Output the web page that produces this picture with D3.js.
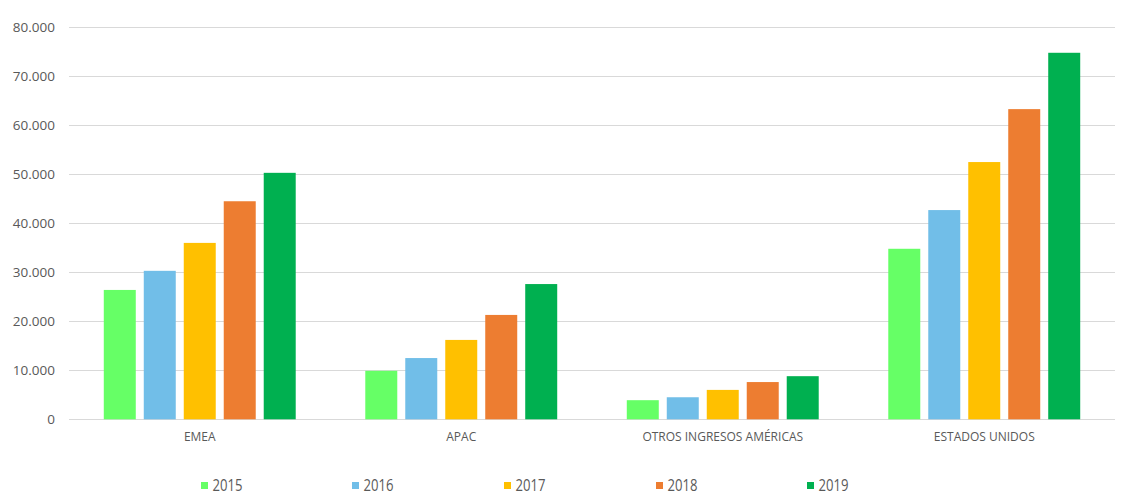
<!DOCTYPE html>
<html><head><meta charset="utf-8">
<script src="https://cdn.jsdelivr.net/npm/d3@7"></script>
<style>body{margin:0;background:#fff}svg{display:block}</style>
</head><body>
<svg id="chart" width="1129" height="504"></svg>
<script>
const categories = ["EMEA", "APAC", "OTROS INGRESOS AMÉRICAS", "ESTADOS UNIDOS"];
const years = ["2015", "2016", "2017", "2018", "2019"];
const v2015 = [26400, 9900, 3900, 34800];
const v2016 = [30300, 12500, 4500, 42700];
const v2017 = [36000, 16200, 6000, 52500];
const v2018 = [44500, 21300, 7600, 63300];
const v2019 = [50300, 27600, 8800, 74800];
const yTicks = [0, 10000, 20000, 30000, 40000, 50000, 60000, 70000, 80000];
const colors = ["#66FF66", "#71BEE8", "#FFC000", "#ED7D31", "#00B050"];

const series = [v2015, v2016, v2017, v2018, v2019];
const svg = d3.select("#chart");
const mLeft = 69, mRight = 1115, mTop = 27.3, mBottom = 419.3;

const x0 = d3.scaleBand().domain(categories).range([mLeft, mRight]).paddingInner(0).paddingOuter(0);
const x1 = d3.scaleBand().domain(years).range([0, x0.bandwidth()]).paddingInner(0.2).paddingOuter(0.87);
const y = d3.scaleLinear().domain([0, 80000]).range([mBottom, mTop]);

const fmt = v => v === 0 ? "0" : d3.format(",")(v).replace(/,/g, ".");

// gridlines
svg.append("g").selectAll("line").data(yTicks).join("line")
  .attr("x1", mLeft).attr("x2", mRight)
  .attr("y1", d => Math.round(y(d)) + 0.5).attr("y2", d => Math.round(y(d)) + 0.5)
  .attr("stroke", "#D9D9D9").attr("stroke-width", 1);

// y labels
const yAxis = d3.axisLeft(y).tickValues(yTicks).tickFormat(fmt).tickSize(0).tickPadding(0);
const ya = svg.append("g").attr("transform", `translate(${mLeft - 14},0)`).call(yAxis);
ya.select(".domain").remove();
ya.selectAll("text").attr("font-family", "'Open Sans', sans-serif").attr("font-size", "13.5px").attr("fill", "#595959");

// bars
const g = svg.append("g");
categories.forEach((c, ci) => {
  g.append("g").selectAll("rect").data(years).join("rect")
    .attr("x", d => x0(c) + x1(d))
    .attr("width", x1.bandwidth())
    .attr("y", (d, i) => y(series[i][ci]))
    .attr("height", (d, i) => y(0) - y(series[i][ci]))
    .attr("fill", (d, i) => colors[i]);
});

// x axis
const xAxis = d3.axisBottom(x0).tickSize(0).tickPadding(0);
const xa = svg.append("g").attr("transform", `translate(0,${mBottom})`).call(xAxis);
xa.select(".domain").remove();
xa.selectAll("text").attr("dy", null).attr("y", 22).attr("font-family", "'Open Sans', sans-serif")
  .attr("font-size", "12px").attr("fill", "#595959");

// legend
const legX = [201, 352, 504, 656, 807];
const leg = svg.append("g");
years.forEach((yr, i) => {
  leg.append("rect").attr("x", legX[i]).attr("y", 482).attr("width", 7).attr("height", 7).attr("fill", colors[i]);
  leg.append("text").attr("x", legX[i] + 11.5).attr("y", 491.3).text(yr)
    .attr("textLength", 30).attr("lengthAdjust", "spacingAndGlyphs")
    .attr("font-family", "'Open Sans', sans-serif").attr("font-size", "15.5px").attr("fill", "#595959");
});
</script>
</body></html>
